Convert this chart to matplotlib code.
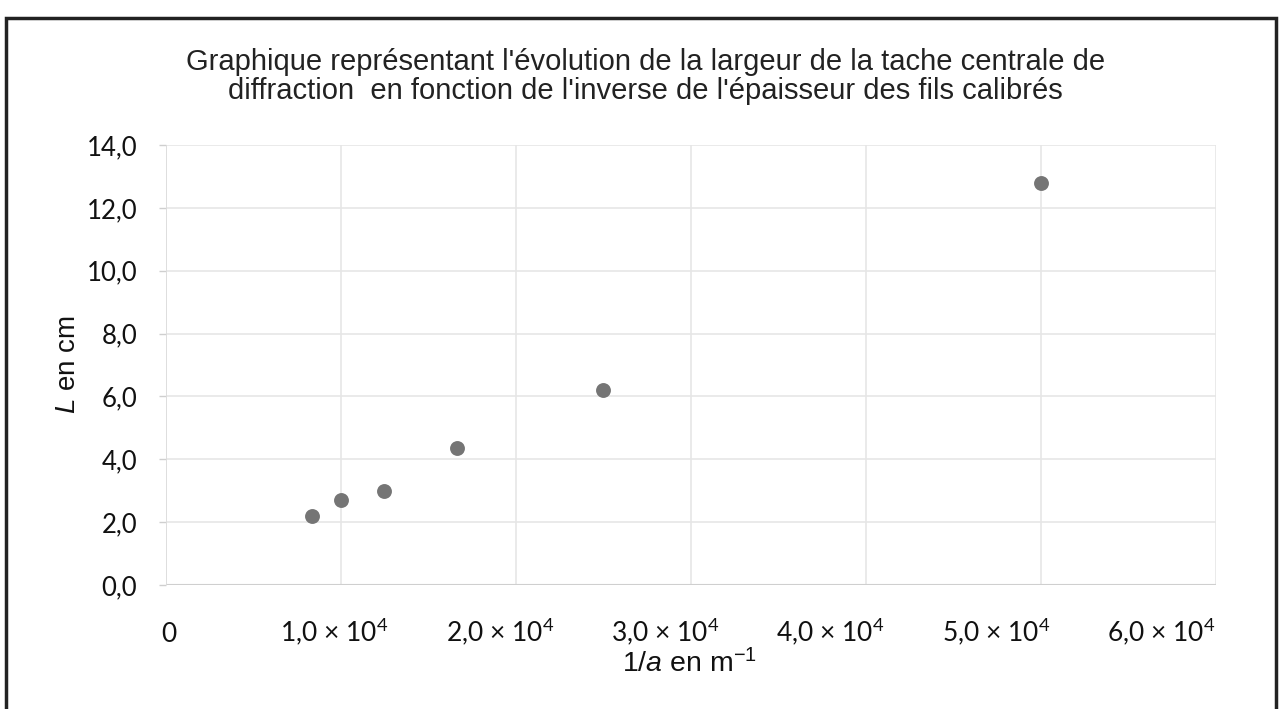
import matplotlib
matplotlib.use("Agg")
import matplotlib.pyplot as plt
from matplotlib.patches import Rectangle
from matplotlib.transforms import blended_transform_factory, offset_copy

# data: 1/a (m^-1) and L (cm)
inv_a = [8333, 10000, 12500, 16667, 25000, 50000]
L_cm = [2.2, 2.7, 3.0, 4.35, 6.2, 12.8]

x_ticks = [0, 10000, 20000, 30000, 40000, 50000, 60000]
x_tick_labels = ["0", r"1,0 × 10$^{\mathsf{4}}$", r"2,0 × 10$^{\mathsf{4}}$",
                 r"3,0 × 10$^{\mathsf{4}}$", r"4,0 × 10$^{\mathsf{4}}$",
                 r"5,0 × 10$^{\mathsf{4}}$", r"6,0 × 10$^{\mathsf{4}}$"]
y_ticks = [0, 2, 4, 6, 8, 10, 12, 14]
y_tick_labels = ["0,0", "2,0", "4,0", "6,0", "8,0", "10,0", "12,0", "14,0"]

title = ("Graphique représentant l'évolution de la largeur de la tache centrale de\n"
         "diffraction  en fonction de l'inverse de l'épaisseur des fils calibrés")

plt.rcParams["mathtext.fontset"] = "custom"
plt.rcParams["mathtext.rm"] = "Liberation Sans"
plt.rcParams["mathtext.it"] = "Liberation Sans:italic"
plt.rcParams["mathtext.sf"] = "Lato"

fig = plt.figure(figsize=(12.85, 7.09), dpi=100)
ax = fig.add_axes([0.129, 0.175, 0.817, 0.6205])

# light Excel-like grid
ax.grid(True, color="#e6e6e6", linewidth=1.2)
ax.set_axisbelow(True)
for s in ax.spines.values():
    s.set_visible(False)
ax.axhline(0, color="#cfcfcf", linewidth=1.5, zorder=1)
ax.axvline(0, color="#dcdcdc", linewidth=1.2, zorder=1)

ax.scatter(inv_a, L_cm, s=115, color="#757575", zorder=3, linewidths=0)

ax.set_xlim(0, 60000)
ax.set_ylim(0, 14)
ax.set_xticks(x_ticks)
ax.set_xticklabels([])
ax.tick_params(axis="x", length=0)

# x labels drawn by hand: in the original they drift left of their gridlines
xtrans = blended_transform_factory(ax.transData, ax.transAxes)
for i, (xv, txt) in enumerate(zip(x_ticks, x_tick_labels)):
    tr = offset_copy(xtrans, fig=fig, x=(3 - 9.5 * i), y=-57, units="dots")
    ax.text(xv, 0, txt, transform=tr, ha="center", va="baseline", fontsize=19,
            family=["Lato", "DejaVu Sans"], color="#111111", clip_on=False)

ax.set_yticks(y_ticks)
ax.set_yticklabels(y_tick_labels, family=["Lato", "DejaVu Sans"], fontsize=18.5)
ax.tick_params(axis="y", length=5, width=1, color="#cfcfcf", pad=15.5, labelcolor="#111111")

ax.set_xlabel(r"1/$\mathit{a}$ en m$^{-1}$", fontsize=20.5, family="Liberation Sans",
              color="#111111")
ax.xaxis.set_label_coords(0.499, -0.145)
ax.set_ylabel(r"$\mathit{L}$ en cm", fontsize=20, family="Liberation Sans",
              labelpad=4, color="#111111")

fig.text(0.502, 0.932, title, ha="center", va="top", fontsize=21,
         family="Liberation Sans", color="#222222", linespacing=1.05)

# black frame around the chart, open below the image bottom
fig.patches.append(Rectangle((0.005, -0.02), 0.988, 0.995, transform=fig.transFigure,
                             fill=False, edgecolor="#222222", linewidth=2.5))

fig.savefig("out.png", dpi=100, facecolor="white")
